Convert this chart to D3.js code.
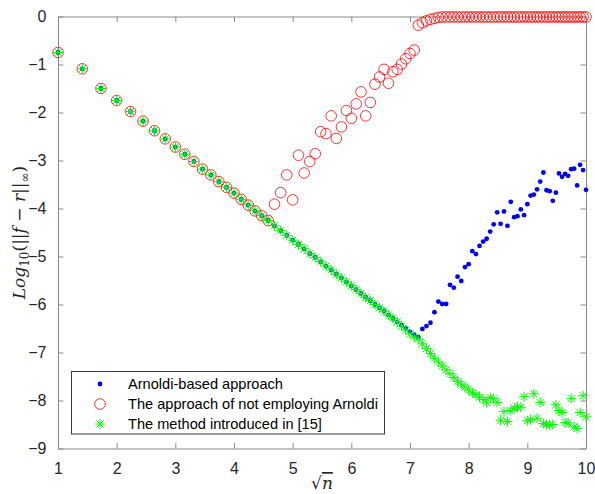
<!DOCTYPE html>
<html>
<head>
<meta charset="utf-8">
<script src="https://cdn.jsdelivr.net/npm/d3@7"></script>
<style>
  body { margin: 0; background: #fff; }
  svg { display: block; }
</style>
</head>
<body>
<svg id="chart"></svg>
<script>
// data: n = 1..100, x = sqrt(n)
const nValues = d3.range(1, 101);

// Arnoldi-based approach (blue dots)
const arnoldi = [
  -0.75, -1.09, -1.50, -1.75, -1.98, -2.18, -2.38, -2.55, -2.72, -2.87,
  -3.02, -3.18, -3.30, -3.44, -3.56, -3.68, -3.81, -3.93, -4.05, -4.15,
  -4.25, -4.36, -4.46, -4.56, -4.66, -4.75, -4.84, -4.94, -5.02, -5.11,
  -5.20, -5.28, -5.37, -5.45, -5.53, -5.61, -5.69, -5.77, -5.85, -5.92,
  -6.00, -6.07, -6.14, -6.22, -6.29, -6.36, -6.43, -6.50, -6.57, -6.63,
  -6.68, -6.51, -6.45, -6.38, -6.16, -5.94, -5.99, -5.99, -5.59, -5.65,
  -5.42, -5.51, -5.22, -5.16, -4.89, -4.95, -4.78, -4.69, -4.63, -4.48,
  -4.33, -4.08, -4.32, -4.06, -4.36, -3.86, -4.18, -4.16, -4.02, -4.14,
  -3.91, -3.73, -3.71, -3.60, -3.44, -3.25, -3.62, -3.64, -3.84, -3.67,
  -3.27, -3.34, -3.28, -3.32, -3.18, -3.17, -3.52, -3.09, -3.20, -3.61
];

// approach of not employing Arnoldi (red circles)
const noArnoldi = [
  -0.75, -1.09, -1.50, -1.75, -1.98, -2.18, -2.38, -2.55, -2.72, -2.87,
  -3.02, -3.18, -3.30, -3.44, -3.56, -3.68, -3.81, -3.93, -4.05, -4.15,
  -4.25, -3.91, -3.67, -3.30, -3.82, -2.89, -3.26, -3.02, -2.86, -2.40,
  -2.44, -2.07, -2.54, -2.30, -1.96, -2.12, -1.82, -1.57, -2.07, -1.79,
  -1.41, -1.26, -1.10, -1.39, -1.15, -1.10, -0.99, -0.88, -0.77, -0.70,
  -0.18, -0.13, -0.09, -0.06, -0.04, -0.02, -0.01, -0.01, -0.01, -0.01,
  -0.01, -0.01, -0.01, -0.01, -0.01, -0.01, -0.01, -0.01, -0.01, -0.01,
  -0.01, -0.01, -0.01, -0.01, -0.01, -0.01, -0.01, -0.01, -0.01, -0.01,
  -0.01, -0.01, -0.01, -0.01, -0.01, -0.01, -0.01, -0.01, -0.01, -0.01,
  -0.01, -0.01, -0.01, -0.01, -0.01, -0.01, -0.01, -0.01, -0.01, -0.01
];

// method introduced in [15] (green stars)
const method15 = [
  -0.75, -1.09, -1.50, -1.75, -1.98, -2.18, -2.38, -2.55, -2.72, -2.87,
  -3.02, -3.18, -3.30, -3.44, -3.56, -3.68, -3.81, -3.93, -4.05, -4.15,
  -4.25, -4.36, -4.46, -4.56, -4.66, -4.75, -4.84, -4.94, -5.02, -5.11,
  -5.20, -5.28, -5.37, -5.45, -5.53, -5.61, -5.69, -5.77, -5.85, -5.92,
  -6.00, -6.07, -6.14, -6.22, -6.29, -6.36, -6.45, -6.53, -6.61, -6.68,
  -6.72, -6.82, -6.92, -7.02, -7.12, -7.20, -7.28, -7.36, -7.44, -7.52,
  -7.60, -7.66, -7.72, -7.78, -7.84, -7.88, -7.93, -7.98, -8.05, -7.94,
  -7.96, -8.04, -8.41, -8.23, -8.44, -8.21, -8.16, -8.13, -8.14, -7.92,
  -8.42, -8.40, -7.86, -8.37, -8.04, -8.48, -8.50, -8.51, -8.50, -8.09,
  -8.21, -8.25, -8.46, -8.47, -7.96, -8.55, -8.58, -8.25, -7.90, -8.34
];

const xTicks = [1, 2, 3, 4, 5, 6, 7, 8, 9, 10];
const yTicks = [0, -1, -2, -3, -4, -5, -6, -7, -8, -9];
const legendLabels = ["Arnoldi-based approach", "The approach of not employing Arnoldi", "The method introduced in [15]"];

const width = 595;
const height = 494;
const margin = {top: 16.5, right: 9, bottom: 45.5, left: 58};
const inWidth = width - margin.left - margin.right;
const inHeight = height - margin.top - margin.bottom;

const svg = d3.select("#chart")
    .attr("width", width)
    .attr("height", height);

const g = svg.append("g")
    .attr("transform", `translate(${margin.left},${margin.top})`);

const x = d3.scaleLinear().domain([1, 10]).range([0, inWidth]);
const y = d3.scaleLinear().domain([-9, 0]).range([inHeight, 0]);

const axisColor = "#8a8a8a";
const textColor = "#262626";
const tickLen = 5.5;

// axes (MATLAB style box with inward ticks)
function styleAxis(sel, hideText) {
    sel.select(".domain").attr("stroke", axisColor).attr("stroke-width", 1);
    sel.selectAll(".tick line").attr("stroke", axisColor);
    sel.selectAll(".tick text")
        .attr("fill", textColor)
        .style("font-family", "Liberation Sans, Arial, sans-serif")
        .style("font-size", "16px");
    if (hideText) sel.selectAll(".tick text").remove();
}

g.append("g")
    .attr("transform", `translate(0,${inHeight})`)
    .call(d3.axisBottom(x).tickValues(xTicks).tickFormat(d3.format("d"))
        .tickSizeInner(-tickLen).tickSizeOuter(0).tickPadding(tickLen + 9))
    .call(s => styleAxis(s, false));

g.append("g")
    .call(d3.axisTop(x).tickValues(xTicks).tickSizeInner(-tickLen).tickSizeOuter(0))
    .call(s => styleAxis(s, true));

g.append("g")
    .call(d3.axisLeft(y).tickValues(yTicks).tickFormat(d3.format("d"))
        .tickSizeInner(-tickLen).tickSizeOuter(0).tickPadding(tickLen + 6))
    .call(s => styleAxis(s, false));

g.append("g")
    .attr("transform", `translate(${inWidth},0)`)
    .call(d3.axisRight(y).tickValues(yTicks).tickSizeInner(-tickLen).tickSizeOuter(0))
    .call(s => styleAxis(s, true));

// markers
const blue = "#0000ff", red = "#ff0000", green = "#00ff00";

function starPath(r) {
    const d = r * 0.7071;
    return `M${-r},0L${r},0M0,${-r}L0,${r}M${-d},${-d}L${d},${d}M${-d},${d}L${d},${-d}`;
}

const plot = g.append("g");

plot.selectAll(".dot")
    .data(nValues)
    .enter().append("circle")
    .attr("class", "dot")
    .attr("cx", n => x(Math.sqrt(n)))
    .attr("cy", (n, i) => y(arnoldi[i]))
    .attr("r", 2.4)
    .attr("fill", blue);

plot.selectAll(".ring")
    .data(nValues)
    .enter().append("circle")
    .attr("class", "ring")
    .attr("cx", n => x(Math.sqrt(n)))
    .attr("cy", (n, i) => y(noArnoldi[i]))
    .attr("r", 5.3)
    .attr("fill", "none")
    .attr("stroke", red)
    .attr("stroke-width", 0.8);

plot.selectAll(".star")
    .data(nValues)
    .enter().append("path")
    .attr("class", "star")
    .attr("transform", (n, i) => `translate(${x(Math.sqrt(n))},${y(method15[i])})`)
    .attr("d", starPath(5))
    .attr("fill", "none")
    .attr("stroke", green)
    .attr("stroke-width", 1);

// legend
const legend = svg.append("g").attr("transform", "translate(71.5,371.5)");
legend.append("rect")
    .attr("width", 313)
    .attr("height", 62.5)
    .attr("fill", "#fff")
    .attr("stroke", "#3a3a3a")
    .attr("stroke-width", 1);

const rowY = [12.5, 32.5, 52.5];
legendLabels.forEach((label, i) => {
    const row = legend.append("g").attr("transform", `translate(28.5,${rowY[i]})`);
    if (i === 0) {
        row.append("circle").attr("r", 2.4).attr("fill", blue);
    } else if (i === 1) {
        row.append("circle").attr("r", 5.3).attr("fill", "none").attr("stroke", red).attr("stroke-width", 0.8);
    } else {
        row.append("path").attr("d", starPath(5)).attr("stroke", green).attr("stroke-width", 1);
    }
    legend.append("text")
        .attr("x", 56.5)
        .attr("y", rowY[i])
        .attr("dy", "0.35em")
        .attr("fill", "#000")
        .style("font-family", "Liberation Sans, Arial, sans-serif")
        .style("font-size", "14.6px")
        .text(label);
});

// y-axis label: Log_10(||f - r||_inf)
const ylab = svg.append("text")
    .attr("transform", `translate(25,${margin.top + inHeight / 2}) rotate(-90)`)
    .attr("text-anchor", "middle")
    .attr("fill", textColor)
    .style("font-family", "DejaVu Serif, Liberation Serif, serif")
    .style("font-size", "17px");
ylab.append("tspan").style("font-style", "italic").text("Log");
ylab.append("tspan").attr("dy", 4).style("font-size", "12px").text("10");
ylab.append("tspan").attr("dy", -4).text("(||");
ylab.append("tspan").style("font-style", "italic").text("f");
ylab.append("tspan").text(" − ");
ylab.append("tspan").style("font-style", "italic").text("r");
ylab.append("tspan").text("||");
ylab.append("tspan").attr("dy", 4).style("font-size", "12px").text("∞");
ylab.append("tspan").attr("dy", -4).text(")");

// x-axis label: sqrt(n)
const xlab = svg.append("text")
    .attr("x", margin.left + inWidth / 2)
    .attr("y", 489)
    .attr("text-anchor", "middle")
    .attr("fill", textColor)
    .style("font-family", "DejaVu Serif, Liberation Serif, serif")
    .style("font-size", "17px");
xlab.append("tspan").text("√");
xlab.append("tspan").style("font-style", "italic").style("text-decoration", "overline").text("n");
</script>
</body>
</html>
